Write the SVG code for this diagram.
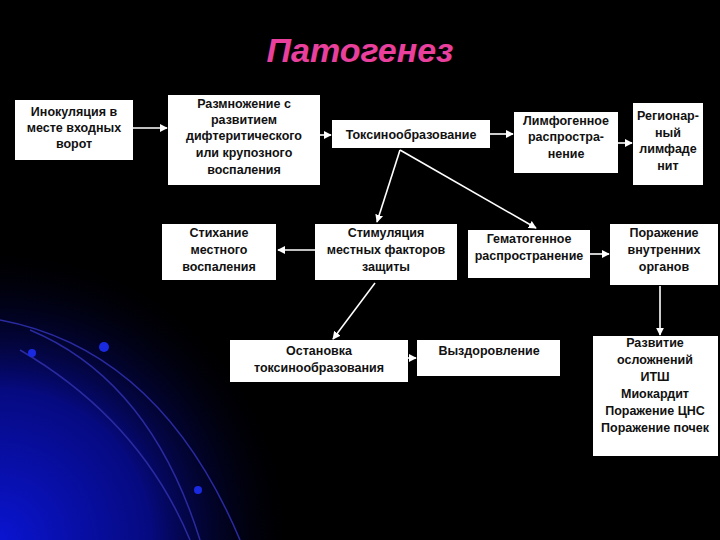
<svg xmlns="http://www.w3.org/2000/svg" width="720" height="540" viewBox="0 0 720 540">
<defs>
<radialGradient id="glow" cx="0" cy="540" r="300" gradientUnits="userSpaceOnUse">
<stop offset="0" stop-color="#0a14d0"/><stop offset="0.5" stop-color="#060a80"/><stop offset="1" stop-color="#000" stop-opacity="0"/>
</radialGradient>
<marker id="ah" viewBox="0 0 10 10" refX="9" refY="5" markerWidth="5" markerHeight="5" orient="auto"><path d="M0,0L10,5L0,10z" fill="#fff"/></marker>
</defs>
<style>
.b{fill:#fff}
.t{font-family:"Liberation Sans",Arial,sans-serif;font-weight:bold;font-size:12.5px;fill:#111;text-anchor:middle}
.c line{stroke:#fff;stroke-width:1.6;marker-end:url(#ah)}
.arc{fill:none;stroke:#2a2aa0;stroke-width:1.5}
</style>
<rect width="720" height="540" fill="#000"/>
<rect width="720" height="540" fill="url(#glow)"/>
<path class="arc" d="M0,320 Q160,350 240,540"/>
<path class="arc" d="M30,330 Q150,380 200,540"/>
<path class="arc" d="M20,350 Q140,420 190,540"/>
<circle cx="104" cy="347" r="5" fill="#1a2ae0"/>
<circle cx="32" cy="353" r="4" fill="#1a2ae0"/>
<circle cx="198" cy="490" r="4" fill="#1a2ae0"/>
<text x="360" y="62" font-family="Liberation Sans,Arial,sans-serif" font-weight="bold" font-style="italic" font-size="34" fill="#e8409c" text-anchor="middle">Патогенез</text>
<g class="c">
<line x1="133" y1="128" x2="167" y2="128"/>
<line x1="320" y1="135" x2="331" y2="135"/>
<line x1="490" y1="134" x2="513" y2="134"/>
<line x1="618" y1="143" x2="632" y2="143"/>
<line x1="400" y1="150" x2="377" y2="222"/>
<line x1="400" y1="150" x2="536" y2="228"/>
<line x1="590" y1="254" x2="609" y2="254"/>
<line x1="315" y1="250" x2="278" y2="250"/>
<line x1="375" y1="283" x2="333" y2="339"/>
<line x1="408" y1="358" x2="416" y2="358"/>
<line x1="660" y1="286" x2="660" y2="335"/>
</g>
<g id="n1"><rect class="b" x="15" y="100" width="118" height="60"/><text class="t" x="74" y="116">Инокуляция в</text><text class="t" x="74" y="132">месте входных</text><text class="t" x="74" y="148">ворот</text></g>
<g id="n2"><rect class="b" x="168" y="95" width="152" height="90"/><text class="t" x="244" y="108">Размножение с</text><text class="t" x="244" y="124">развитием</text><text class="t" x="244" y="140">дифтеритического</text><text class="t" x="244" y="157">или  крупозного</text><text class="t" x="244" y="174">воспаления</text></g>
<g id="n3"><rect class="b" x="332" y="120" width="158" height="28"/><text class="t" x="411" y="139">Токсинообразование</text></g>
<g id="n4"><rect class="b" x="514" y="112" width="104" height="61"/><text class="t" x="566" y="125">Лимфогенное</text><text class="t" x="566" y="141">распростра-</text><text class="t" x="566" y="158">нение</text></g>
<g id="n5"><rect class="b" x="633" y="103" width="70" height="82"/><text class="t" x="668" y="120">Регионар-</text><text class="t" x="668" y="137">ный</text><text class="t" x="668" y="153">лимфаде</text><text class="t" x="668" y="170">нит</text></g>
<g id="n6"><rect class="b" x="162" y="224" width="114" height="56"/><text class="t" x="219" y="237">Стихание</text><text class="t" x="219" y="254">местного</text><text class="t" x="219" y="271">воспаления</text></g>
<g id="n7"><rect class="b" x="315" y="224" width="142" height="56"/><text class="t" x="386" y="237">Стимуляция</text><text class="t" x="386" y="254">местных факторов</text><text class="t" x="386" y="271">защиты</text></g>
<g id="n8"><rect class="b" x="468" y="230" width="122" height="48"/><text class="t" x="529" y="243">Гематогенное</text><text class="t" x="529" y="260">распространение</text></g>
<g id="n9"><rect class="b" x="610" y="224" width="108" height="61"/><text class="t" x="664" y="237">Поражение</text><text class="t" x="664" y="254">внутренних</text><text class="t" x="664" y="271">органов</text></g>
<g id="n10"><rect class="b" x="230" y="340" width="178" height="42"/><text class="t" x="319" y="355" font-weight="normal">Остановка</text><text class="t" x="319" y="372" font-weight="normal">токсинообразования</text></g>
<g id="n11"><rect class="b" x="417" y="340" width="143" height="36"/><text class="t" x="489" y="355" font-weight="normal">Выздоровление</text></g>
<g id="n12"><rect class="b" x="593" y="336" width="125" height="120"/><text class="t" x="655" y="347">Развитие</text><text class="t" x="655" y="364">осложнений</text><text class="t" x="655" y="381">ИТШ</text><text class="t" x="655" y="398">Миокардит</text><text class="t" x="655" y="415">Поражение ЦНС</text><text class="t" x="655" y="432">Поражение почек</text></g>
</svg>
